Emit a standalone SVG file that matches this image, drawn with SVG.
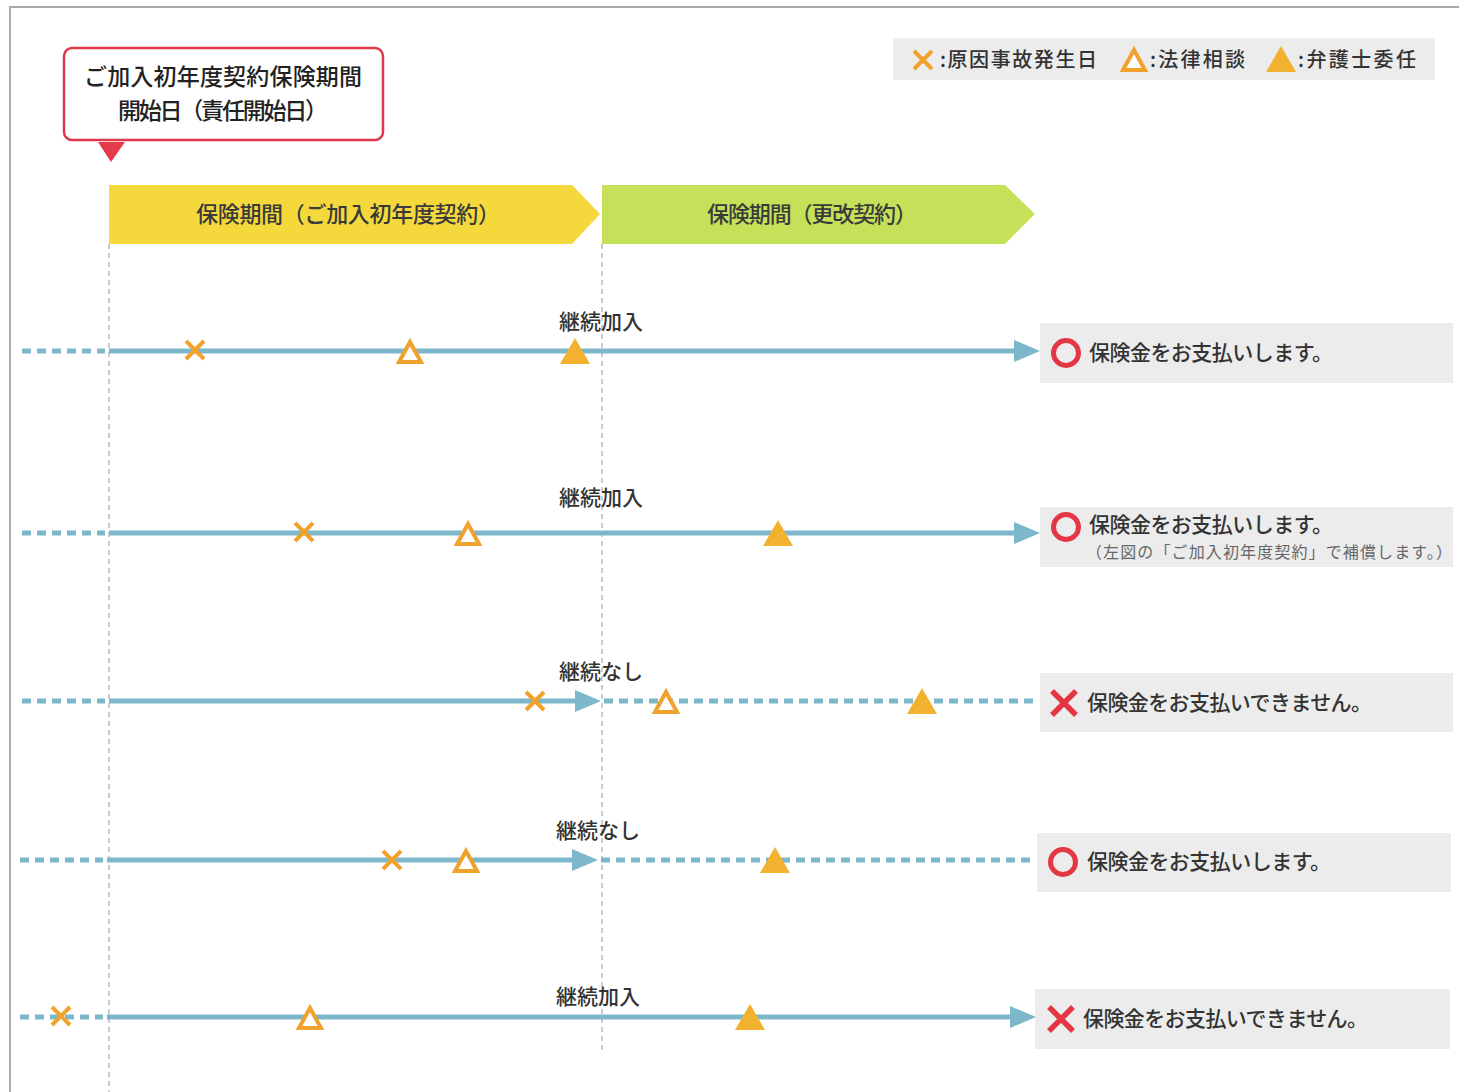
<svg xmlns="http://www.w3.org/2000/svg" width="1459" height="1092" viewBox="0 0 1459 1092">
<defs>
<style>
text{font-family:"Noto Sans CJK JP","Noto Sans CJK SC",sans-serif;fill:#333;font-weight:500}
.lbl{font-size:21px;text-anchor:middle}
.res{font-size:21px}
.band{font-size:22px;text-anchor:middle;fill:#3a3a3a}
.solid{stroke:#7db7cb;stroke-width:5;fill:none}
.dash{stroke:#7db7cb;stroke-width:5;fill:none;stroke-dasharray:9 6}
.vdash{stroke:#999;stroke-width:1;stroke-dasharray:5 4;fill:none}
.box{fill:#ececec}
.ox{stroke:#f0a22d;stroke-width:4;fill:none}
.tri-o{fill:#fff;stroke:#f0a22d;stroke-width:4;stroke-linejoin:miter}
.tri-f{fill:#f2b230}
.circ{fill:none;stroke:#e33745;stroke-width:5}
.rx{stroke:#e33745;stroke-width:5.5;fill:none}
</style>
<symbol id="cross" overflow="visible"><path class="ox" d="M-9,-9L9,9M9,-9L-9,9"/></symbol>
<symbol id="triO" overflow="visible"><path class="tri-o" d="M0,-10L11,10L-11,10Z"/></symbol>
<symbol id="triF" overflow="visible"><path class="tri-f" d="M0,-14L15,12L-15,12Z"/></symbol>
<symbol id="circle" overflow="visible"><circle class="circ" cx="0" cy="0" r="12.5"/></symbol>
<symbol id="redx" overflow="visible"><path class="rx" d="M-12,-12L12,12M12,-12L-12,12"/></symbol>
<symbol id="arrowhead" overflow="visible"><path fill="#7db7cb" d="M-26,-11L0,0L-26,11Z"/></symbol>
</defs>
<rect width="1459" height="1092" fill="#fff"/>
<path d="M10,1092V7H1459" fill="none" stroke="#aaa" stroke-width="2"/>

<g id="callout">
<rect x="64" y="48" width="319" height="92" rx="8" fill="#fff" stroke="#e0364a" stroke-width="2.5"/>
<path d="M98,142L125,142L111,162Z" fill="#e63a48"/>
<text x="223" y="85" class="band" style="font-size:23px;fill:#222" textLength="278">ご加入初年度契約保険期間</text>
<text x="223" y="119" class="band" style="font-size:23px;fill:#222" textLength="210">開始日（責任開始日）</text>
</g>

<g id="legend">
<rect x="893" y="38" width="542" height="42" class="box"/>
<use href="#cross" x="923" y="60"/>
<text x="940" y="67" style="font-size:20px" textLength="157">:原因事故発生日</text>
<use href="#triO" x="1134" y="60"/>
<text x="1150" y="67" style="font-size:20px" textLength="95">:法律相談</text>
<use href="#triF" x="1281" y="60"/>
<text x="1298" y="67" style="font-size:20px" textLength="118">:弁護士委任</text>
</g>

<g id="band-first">
<path d="M109,185H572L600,214L572,244H109Z" fill="#f5d93c"/>
<text x="348" y="222" class="band" textLength="304">保険期間（ご加入初年度契約）</text>
</g>
<g id="band-renew">
<path d="M602,185H1005L1035,214L1005,244H602Z" fill="#c5e15a"/>
<text x="812" y="222" class="band" textLength="210">保険期間（更改契約）</text>
</g>

<g id="guides">
<line x1="109" y1="244" x2="109" y2="1092" class="vdash"/>
<line x1="602" y1="244" x2="602" y2="1050" class="vdash"/>
</g>

<g id="connectors">
<line x1="22" y1="351" x2="105" y2="351" class="dash"/>
<line x1="109" y1="351" x2="1016" y2="351" class="solid"/>
<use href="#arrowhead" x="1040" y="351"/>
<line x1="22" y1="533" x2="105" y2="533" class="dash"/>
<line x1="109" y1="533" x2="1016" y2="533" class="solid"/>
<use href="#arrowhead" x="1040" y="533"/>
<line x1="22" y1="701" x2="105" y2="701" class="dash"/>
<line x1="109" y1="701" x2="578" y2="701" class="solid"/>
<use href="#arrowhead" x="601" y="701"/>
<line x1="604" y1="701" x2="1038" y2="701" class="dash"/>
<line x1="20" y1="860" x2="103" y2="860" class="dash"/>
<line x1="107" y1="860" x2="575" y2="860" class="solid"/>
<use href="#arrowhead" x="598" y="860"/>
<line x1="601" y1="860" x2="1035" y2="860" class="dash"/>
<line x1="20" y1="1017" x2="103" y2="1017" class="dash"/>
<line x1="107" y1="1017" x2="1012" y2="1017" class="solid"/>
<use href="#arrowhead" x="1036" y="1017"/>
</g>

<g id="row1">
<use href="#cross" x="195" y="350"/>
<use href="#triO" x="410" y="352"/>
<use href="#triF" x="575" y="352"/>
<text x="601" y="329" class="lbl">継続加入</text>
<rect x="1040" y="323" width="413" height="60" class="box"/>
<use href="#circle" x="1066" y="353"/>
<text x="1089" y="360" class="res" textLength="244">保険金をお支払いします。</text>
</g>

<g id="row2">
<use href="#cross" x="304" y="532"/>
<use href="#triO" x="468" y="534"/>
<use href="#triF" x="778" y="534"/>
<text x="601" y="505" class="lbl">継続加入</text>
<rect x="1040" y="507" width="413" height="60" class="box"/>
<use href="#circle" x="1066" y="527"/>
<text x="1089" y="532" class="res" textLength="244">保険金をお支払いします。</text>
<text x="1086" y="558" style="font-size:16px;fill:#666;font-weight:400" textLength="366">（左図の「ご加入初年度契約」で補償します。）</text>
</g>

<g id="row3">
<use href="#cross" x="535" y="701"/>
<use href="#triO" x="666" y="702"/>
<use href="#triF" x="922" y="702"/>
<text x="601" y="679" class="lbl">継続なし</text>
<rect x="1040" y="673" width="413" height="59" class="box"/>
<use href="#redx" x="1064" y="703"/>
<text x="1087" y="710" class="res" textLength="285">保険金をお支払いできません。</text>
</g>

<g id="row4">
<use href="#cross" x="392" y="860"/>
<use href="#triO" x="466" y="861"/>
<use href="#triF" x="775" y="861"/>
<text x="598" y="838" class="lbl">継続なし</text>
<rect x="1037" y="833" width="414" height="59" class="box"/>
<use href="#circle" x="1063" y="862"/>
<text x="1087" y="869" class="res" textLength="244">保険金をお支払いします。</text>
</g>

<g id="row5">
<use href="#cross" x="61" y="1016"/>
<use href="#triO" x="310" y="1018"/>
<use href="#triF" x="750" y="1018"/>
<text x="598" y="1004" class="lbl">継続加入</text>
<rect x="1035" y="989" width="415" height="60" class="box"/>
<use href="#redx" x="1061" y="1019"/>
<text x="1083" y="1026" class="res" textLength="285">保険金をお支払いできません。</text>
</g>
</svg>
